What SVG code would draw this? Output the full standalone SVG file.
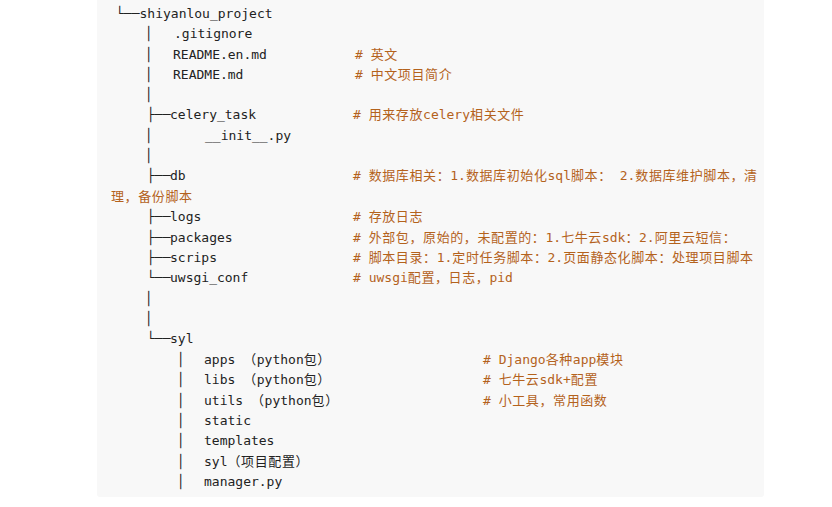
<svg xmlns="http://www.w3.org/2000/svg" width="832" height="507" viewBox="0 0 832 507">
<style>
text{font-family:"DejaVu Sans Mono","Liberation Mono","Noto Sans CJK SC",monospace;font-size:13px;fill:#222;}
.c{fill:#b4621c;}
.k{letter-spacing:0.6px;}
</style>
<rect x="0" y="0" width="832" height="507" fill="#ffffff"/>
<rect x="97" y="-4" width="667" height="501" rx="3" fill="#f8f8f8"/>
<g id="root"><text x="116" y="17.5">└──</text><text x="139.5" y="17.5">shiyanlou_project</text></g>
<g id="gitignore"><text x="145" y="38">│</text><text x="174" y="38">.gitignore</text></g>
<g id="readme-en"><text x="145" y="58.5">│</text><text x="173" y="58.5">README.en.md</text><text class="c" x="355" y="58.5"># <tspan class="k">英文</tspan></text></g>
<g id="readme"><text x="145" y="78.5">│</text><text x="173" y="78.5">README.md</text><text class="c" x="355" y="78.5"># <tspan class="k">中文项目简介</tspan></text></g>
<g id="pipe1"><text x="145" y="99">│</text></g>
<g id="celery"><text x="147" y="119">├──</text><text x="170" y="119">celery_task</text><text class="c" x="353" y="119"># <tspan class="k">用来存放</tspan>celery<tspan class="k">相关文件</tspan></text></g>
<g id="init"><text x="145" y="139.5">│</text><text x="205" y="139.5">__init__.py</text></g>
<g id="pipe2"><text x="145" y="160">│</text></g>
<g id="db"><text x="147" y="180">├──</text><text x="170" y="180">db</text><text class="c" x="353" y="180"># <tspan class="k">数据库相关：</tspan>1.<tspan class="k">数据库初始化</tspan>sql<tspan class="k">脚本：</tspan> 2.<tspan class="k">数据库维护脚本，清</tspan></text><text class="c k" x="111" y="200.5">理，备份脚本</text></g>
<g id="logs"><text x="147" y="221">├──</text><text x="170" y="221">logs</text><text class="c" x="353" y="221"># <tspan class="k">存放日志</tspan></text></g>
<g id="packages"><text x="147" y="241.5">├──</text><text x="170" y="241.5">packages</text><text class="c" x="353" y="241.5"># <tspan class="k">外部包，原始的，未配置的：</tspan>1.<tspan class="k">七牛云</tspan>sdk<tspan class="k">：</tspan>2.<tspan class="k">阿里云短信：</tspan></text></g>
<g id="scrips"><text x="147" y="262">├──</text><text x="170" y="262">scrips</text><text class="c" x="353" y="262"># <tspan class="k">脚本目录：</tspan>1.<tspan class="k">定时任务脚本：</tspan>2.<tspan class="k">页面静态化脚本：处理项目脚本</tspan></text></g>
<g id="uwsgi"><text x="147" y="282">└──</text><text x="170" y="282">uwsgi_conf</text><text class="c" x="353" y="282"># uwsgi<tspan class="k">配置，日志，</tspan>pid</text></g>
<g id="pipe3"><text x="145" y="302.5">│</text></g>
<g id="pipe4"><text x="145" y="323">│</text></g>
<g id="syl"><text x="147" y="343">└──</text><text x="170" y="343">syl</text></g>
<g id="apps"><text x="177" y="363.5">│</text><text x="204" y="363.5">apps <tspan class="k">（</tspan>python<tspan class="k">包）</tspan></text><text class="c" x="483" y="363.5"># Django<tspan class="k">各种</tspan>app<tspan class="k">模块</tspan></text></g>
<g id="libs"><text x="177" y="384">│</text><text x="204" y="384">libs <tspan class="k">（</tspan>python<tspan class="k">包）</tspan></text><text class="c" x="483" y="384"># <tspan class="k">七牛云</tspan>sdk+<tspan class="k">配置</tspan></text></g>
<g id="utils"><text x="177" y="404.5">│</text><text x="204" y="404.5">utils <tspan class="k">（</tspan>python<tspan class="k">包）</tspan></text><text class="c" x="483" y="404.5"># <tspan class="k">小工具，常用函数</tspan></text></g>
<g id="static"><text x="177" y="424.5">│</text><text x="204" y="424.5">static</text></g>
<g id="templates"><text x="177" y="445">│</text><text x="204" y="445">templates</text></g>
<g id="syl-conf"><text x="177" y="465.5">│</text><text x="204" y="465.5">syl<tspan class="k">（项目配置）</tspan></text></g>
<g id="manager"><text x="177" y="486">│</text><text x="204" y="486">manager.py</text></g>
<g id="connectors"></g>
</svg>
